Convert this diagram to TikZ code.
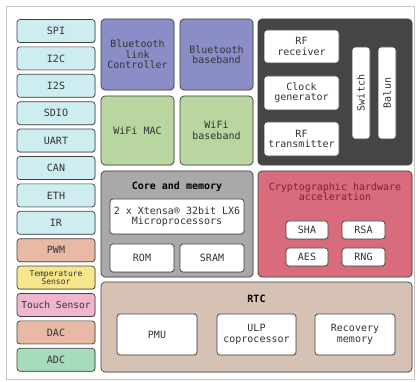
\documentclass[tikz,border=0pt]{standalone}
\usepackage{fontspec}
\setmainfont{DejaVu Sans Mono}
\usetikzlibrary{positioning,shadows}

\definecolor{ioCyan}{HTML}{CDEDF0}
\definecolor{ioSalmon}{HTML}{E8B9A4}
\definecolor{ioYellow}{HTML}{F7E68C}
\definecolor{ioPink}{HTML}{F0B5CF}
\definecolor{ioGreen}{HTML}{A6DCBC}
\definecolor{btBlue}{HTML}{8B8EC6}
\definecolor{wifiGreen}{HTML}{B9D5A0}
\definecolor{rfDark}{HTML}{454545}
\definecolor{coreGray}{HTML}{A9A9A9}
\definecolor{cryptoRed}{HTML}{D96C7C}
\definecolor{cryptoText}{HTML}{7A2232}
\definecolor{rtcTan}{HTML}{D5C2B5}

\begin{document}
\begin{tikzpicture}[
  x=1pt, y=-1pt,
  font=\fontsize{10}{10.5}\selectfont,
  blk/.style={draw=black!75, rounded corners=3pt, align=center, line width=0.7pt,
    text=black!80, inner sep=0pt,
    drop shadow={shadow xshift=0.7pt, shadow yshift=-0.7pt, opacity=0.35}},
  io/.style={blk, minimum width=78pt, minimum height=23pt, fill=ioCyan},
  group/.style={blk, rounded corners=4pt},
  unit/.style={blk, fill=white},
  title/.style={align=center, inner sep=0pt}
]
  \useasboundingbox (0,0) rectangle (418,382);
  \node[draw=gray!45, line width=0.6pt, minimum width=408pt, minimum height=373pt,
    inner sep=0pt] (frame) at (210,192.5) {};

  % peripherals
  \node[io] (spi) at (56,31) {SPI};
  \node[io, below=3.7pt of spi] (i2c) {I2C};
  \node[io, below=3.7pt of i2c] (i2s) {I2S};
  \node[io, below=3.7pt of i2s] (sdio) {SDIO};
  \node[io, below=3.7pt of sdio] (uart) {UART};
  \node[io, below=3.7pt of uart] (can) {CAN};
  \node[io, below=3.7pt of can] (eth) {ETH};
  \node[io, below=3.7pt of eth] (ir) {IR};
  \node[io, fill=ioSalmon, below=3.7pt of ir] (pwm) {PWM};
  \node[io, fill=ioYellow, font=\fontsize{8}{8}\selectfont, below=3.7pt of pwm] (temp)
    {Temperature\\Sensor};
  \node[io, fill=ioPink, font=\fontsize{9.6}{10}\selectfont, below=3.7pt of temp] (touch)
    {Touch Sensor};
  \node[io, fill=ioSalmon, below=3.7pt of touch] (dac) {DAC};
  \node[io, fill=ioGreen, below=3.7pt of dac] (adc) {ADC};

  % radio
  \node[group, fill=btBlue, minimum width=73pt, minimum height=71pt] (btlink)
    at (137.5,54.5) {Bluetooth\\link\\Controller};
  \node[group, fill=btBlue, minimum width=73pt, minimum height=71pt] (btbase)
    at (216.5,54.5) {Bluetooth\\baseband};
  \node[group, fill=wifiGreen, minimum width=73pt, minimum height=69pt] (wifimac)
    at (137.5,130.5) {WiFi MAC};
  \node[group, fill=wifiGreen, minimum width=73pt, minimum height=69pt] (wifibase)
    at (216.5,130.5) {WiFi\\baseband};

  \node[group, fill=rfDark, minimum width=154pt, minimum height=146pt] (rf)
    at (335,92) {};
  \node[unit, minimum width=75pt, minimum height=33pt] (rfrx) at (301.5,46.5)
    {RF\\receiver};
  \node[unit, minimum width=75pt, minimum height=34pt] (clk) at (301.5,93)
    {Clock\\generator};
  \node[unit, minimum width=75pt, minimum height=34pt] (rftx) at (301.5,139)
    {RF\\transmitter};
  \node[unit, minimum width=18pt, minimum height=92pt] (switch) at (361,93)
    {\rotatebox{90}{Switch}};
  \node[unit, minimum width=18pt, minimum height=92pt] (balun) at (387,93)
    {\rotatebox{90}{Balun}};

  % core
  \node[group, fill=coreGray, minimum width=152pt, minimum height=106pt] (core)
    at (177,224) {};
  \node[title, font=\fontsize{10}{10.5}\bfseries] (coretitle) at (177,187)
    {Core and memory};
  \node[unit, minimum width=134pt, minimum height=35pt] (cpu) at (177,216.5)
    {2 x Xtensa® 32bit LX6\\Microprocessors};
  \node[unit, minimum width=64pt, minimum height=28pt] (rom) at (142,258) {ROM};
  \node[unit, minimum width=64pt, minimum height=28pt] (sram) at (212,258) {SRAM};

  % crypto
  \node[group, fill=cryptoRed, minimum width=154pt, minimum height=106pt] (crypto)
    at (335,224) {};
  \node[title, text=cryptoText] (cryptotitle) at (335,192)
    {Cryptographic hardware\\acceleration};
  \node[unit, minimum width=42pt, minimum height=18pt] (sha) at (307,230) {SHA};
  \node[unit, minimum width=43pt, minimum height=18pt] (rsa) at (363.5,230) {RSA};
  \node[unit, minimum width=42pt, minimum height=18pt] (aes) at (307,257) {AES};
  \node[unit, minimum width=43pt, minimum height=18pt] (rng) at (363.5,257) {RNG};

  % rtc
  \node[group, fill=rtcTan, minimum width=311pt, minimum height=90pt] (rtc)
    at (256.5,327) {};
  \node[title, font=\fontsize{10}{10.5}\bfseries] (rtctitle) at (256.5,299) {RTC};
  \node[unit, minimum width=80pt, minimum height=41pt] (pmu) at (157,334.5) {PMU};
  \node[unit, minimum width=79pt, minimum height=41pt] (ulp) at (256.5,334.5)
    {ULP\\coprocessor};
  \node[unit, minimum width=80pt, minimum height=41pt] (recmem) at (355,334.5)
    {Recovery\\memory};
\end{tikzpicture}
\end{document}
